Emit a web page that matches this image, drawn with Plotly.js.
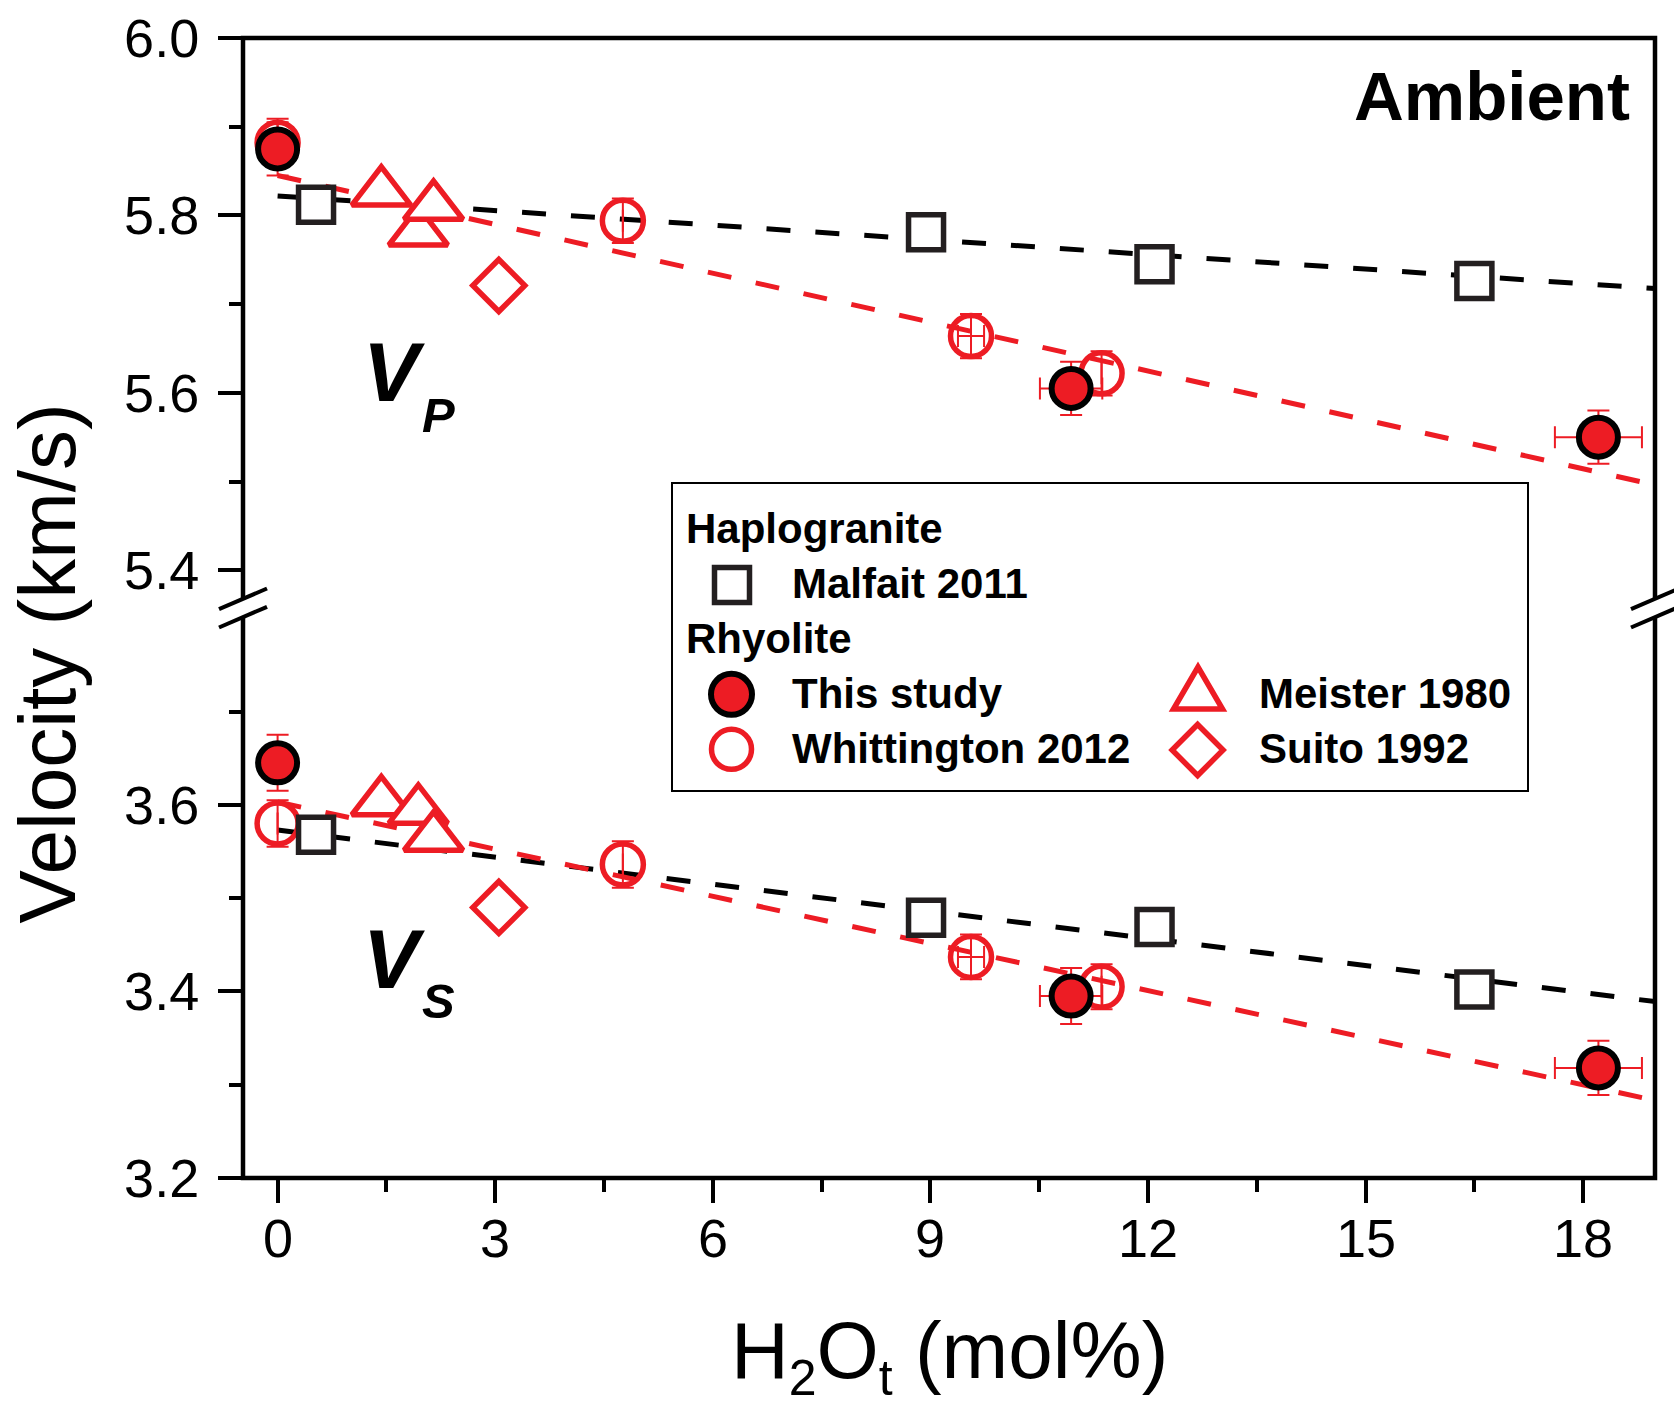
<!DOCTYPE html>
<html>
<head>
<meta charset="utf-8">
<script src="https://cdn.plot.ly/plotly-3.0.1.min.js"></script>
<style>
html,body{margin:0;padding:0;background:#fff;}
#chart{width:1674px;height:1407px;}
</style>
</head>
<body>
<div id="chart"></div>
<script>
// ---------------- data ----------------
const xTickVals = [0, 3, 6, 9, 12, 15, 18];
const vpTickVals = [5.4, 5.6, 5.8, 6.0];
const vpMinorVals = [5.5, 5.7, 5.9];
const vsTickVals = [3.2, 3.4, 3.6];
const vsMinorVals = [3.3, 3.5, 3.7];

const malfaitX  = [0.53, 8.94, 12.09, 16.5];
const malfaitVp = [5.812, 5.781, 5.745, 5.726];
const malfaitVs = [3.568, 3.479, 3.469, 3.402];

const thisX     = [0, 10.94, 18.21];
const thisXErr  = [0, 0.43, 0.6];
const thisVp    = [5.875, 5.605, 5.550];
const thisVpErr = [0.03, 0.03, 0.03];
const thisVs    = [3.645, 3.395, 3.318];
const thisVsErr = [0.03, 0.03, 0.029];

const whitX     = [0, 4.76, 9.56, 11.36];
const whitXErr  = [0, 0, 0.18, 0];
const whitVp    = [5.882, 5.794, 5.664, 5.622];
const whitVpErr = [0.027, 0.025, 0.025, 0.025];
const whitVs    = [3.580, 3.536, 3.437, 3.405];
const whitVsErr = [0.025, 0.025, 0.024, 0.024];

const meisterX  = [1.43, 1.94, 2.15];
const meisterVp = [5.826, 5.781, 5.810];
const meisterVs = [3.603, 3.594, 3.565];

const suitoX  = [3.05];
const suitoVp = [5.721];
const suitoVs = [3.490];

const fitX       = [0, 19];
const fitHaploVp = [5.822, 5.7175];
const fitRhyoVp  = [5.845, 5.496];
const fitHaploVs = [3.573, 3.389];
const fitRhyoVs  = [3.603, 3.283];

const groupNames  = ['Haplogranite', 'Rhyolite'];
const seriesNames = ['Malfait 2011', 'This study', 'Whittington 2012', 'Meister 1980', 'Suito 1992'];

// ---------------- styling / layout ----------------
const RED = '#ED1C24';
const DARK = '#231F20';
const FONT = 'Liberation Sans, Arial, Helvetica, sans-serif';

// plot-area geometry (pixels)
const W = 1674, H = 1407;
const M = {l: 243, r: 19, t: 38, b: 229};
const PW = W - M.l - M.r, PH = H - M.t - M.b;
const px = v => (v - M.l) / PW;
const py = v => (M.t + PH - v) / PH;

function dashed(color) { return {color: color, width: 5, dash: '24px,25px'}; }

function panel(yaxis, vals) {
  return [
    {x: fitX, y: vals.fitH, yaxis: yaxis, mode: 'lines', line: dashed('#000'), hoverinfo: 'skip'},
    {x: fitX, y: vals.fitR, yaxis: yaxis, mode: 'lines', line: dashed(RED), hoverinfo: 'skip'},
    {x: whitX, y: vals.whit, yaxis: yaxis, mode: 'markers', name: seriesNames[2],
     marker: {symbol: 'circle', size: 41, color: 'rgba(255,255,255,0)', line: {color: RED, width: 5.5}},
     error_y: {type: 'data', array: vals.whitErr, color: RED, thickness: 2, width: 11},
     error_x: {type: 'data', array: whitXErr, color: RED, thickness: 2, width: 11}},
    {x: malfaitX, y: vals.mal, yaxis: yaxis, mode: 'markers', name: seriesNames[0],
     marker: {symbol: 'square', size: 35, color: '#fff', line: {color: DARK, width: 5.5}}},
    {x: meisterX, y: vals.mei, yaxis: yaxis, mode: 'markers', name: seriesNames[3],
     marker: {symbol: 'triangle-up', size: 51, color: '#fff', line: {color: RED, width: 5.5}}},
    {x: suitoX, y: vals.sui, yaxis: yaxis, mode: 'markers', name: seriesNames[4],
     marker: {symbol: 'diamond', size: 40, color: '#fff', line: {color: RED, width: 5.5}}},
    {x: thisX, y: vals.thi, yaxis: yaxis, mode: 'markers', name: seriesNames[1],
     marker: {symbol: 'circle', size: 39, color: RED, line: {color: '#000', width: 6}},
     error_y: {type: 'data', array: vals.thiErr, color: RED, thickness: 2, width: 11},
     error_x: {type: 'data', array: thisXErr, color: RED, thickness: 2, width: 11}}
  ];
}

const data = [].concat(
  panel('y2', {fitH: fitHaploVp, fitR: fitRhyoVp, whit: whitVp, whitErr: whitVpErr, mal: malfaitVp,
               mei: meisterVp, sui: suitoVp, thi: thisVp, thiErr: thisVpErr}),
  panel('y', {fitH: fitHaploVs, fitR: fitRhyoVs, whit: whitVs, whitErr: whitVsErr, mal: malfaitVs,
              mei: meisterVs, sui: suitoVs, thi: thisVs, thiErr: thisVsErr})
);

const tickCommon = {
  ticks: 'outside', ticklen: 24, tickwidth: 4, tickcolor: '#000',
  showline: false, showgrid: false, zeroline: false,
  tickfont: {family: FONT, size: 54, color: '#000'}
};
const minorCommon = {ticks: 'outside', ticklen: 13, tickwidth: 4, tickcolor: '#000', showgrid: false};

// shapes: frame, axis breaks, legend box and legend symbols
const shapes = [
  {type: 'rect', xref: 'paper', yref: 'paper', x0: 0, x1: 1, y0: 0, y1: 1,
   line: {color: '#000', width: 4.5}, fillcolor: 'rgba(0,0,0,0)', layer: 'above'}
];
const breakY = py(608);
[0, 1].forEach(function (side) {
  const base = {xref: 'paper', yref: 'paper', xsizemode: 'pixel', ysizemode: 'pixel',
                xanchor: side, yanchor: breakY, layer: 'above'};
  shapes.push(Object.assign({type: 'path', path: 'M-24,-1.2L24,19.5L24,1.2L-24,-19.5Z',
                             fillcolor: '#fff', line: {width: 0}}, base));
  shapes.push(Object.assign({type: 'line', x0: -24, x1: 24, y0: -1.2, y1: 19.5,
                             line: {color: '#000', width: 4}}, base));
  shapes.push(Object.assign({type: 'line', x0: -24, x1: 24, y0: -19.5, y1: 1.2,
                             line: {color: '#000', width: 4}}, base));
});
// legend box
shapes.push({type: 'rect', xref: 'paper', yref: 'paper', x0: px(672), x1: px(1528), y0: py(791), y1: py(483),
             line: {color: '#000', width: 2}, fillcolor: '#fff', layer: 'above'});
function sym(cx, cy, spec) {
  return Object.assign({xref: 'paper', yref: 'paper', xsizemode: 'pixel', ysizemode: 'pixel',
                        xanchor: px(cx), yanchor: py(cy), layer: 'above'}, spec);
}
shapes.push(sym(732, 585, {type: 'rect', x0: -17.5, x1: 17.5, y0: -17.5, y1: 17.5,
                           fillcolor: '#fff', line: {color: DARK, width: 5.5}}));
shapes.push(sym(731.5, 694.3, {type: 'circle', x0: -20.5, x1: 20.5, y0: -20.5, y1: 20.5,
                               fillcolor: RED, line: {color: '#000', width: 6}}));
shapes.push(sym(731.5, 749.3, {type: 'circle', x0: -20, x1: 20, y0: -20, y1: 20,
                               fillcolor: '#fff', line: {color: RED, width: 5.5}}));
shapes.push(sym(1198, 695, {type: 'path', path: 'M-24.5,-14L24.5,-14L0,28Z',
                            fillcolor: '#fff', line: {color: RED, width: 5.5}}));
shapes.push(sym(1197.6, 750, {type: 'path', path: 'M0,25.5L25.5,0L0,-25.5L-25.5,0Z',
                              fillcolor: '#fff', line: {color: RED, width: 5.5}}));

// text annotations
function note(text, x, y, size, extra) {
  return Object.assign({text: text, xref: 'paper', yref: 'paper', x: px(x), y: py(y),
                        showarrow: false, xanchor: 'left', yanchor: 'middle',
                        font: {family: FONT, size: size, color: '#000'}}, extra || {});
}
const LF = 42;
const annotations = [
  note('<b>' + groupNames[0] + '</b>', 684, 543.3 - 0.35 * LF, LF),
  note('<b>' + seriesNames[0] + '</b>', 789.5, 598.3 - 0.35 * LF, LF),
  note('<b>' + groupNames[1] + '</b>', 684, 653.3 - 0.35 * LF, LF),
  note('<b>' + seriesNames[1] + '</b>', 789.5, 708.3 - 0.35 * LF, LF),
  note('<b>' + seriesNames[2] + '</b>', 789.5, 763.3 - 0.35 * LF, LF),
  note('<b>' + seriesNames[3] + '</b>', 1256.5, 708.3 - 0.35 * LF, LF),
  note('<b>' + seriesNames[4] + '</b>', 1256.5, 763.3 - 0.35 * LF, LF),
  note('<b>Ambient</b>', 1632, 120.7 - 0.35 * 69, 69, {xanchor: 'right'}),
  note('<b><i>V</i></b>', 361, 401.7 - 0.35 * 84, 84),
  note('<b><i>P</i></b>', 420, 431.7 - 0.35 * 49, 49),
  note('<b><i>V</i></b>', 361, 988.3 - 0.35 * 84, 84),
  note('<b><i>S</i></b>', 420, 1018.3 - 0.35 * 49, 49),
  note('Velocity (km/s)', 47.4, 663, 80, {xanchor: 'center', textangle: -90}),
  note('H<sub><span style="font-size:50px">2</span></sub>O<sub><span style="font-size:50px">t</span></sub> (mol%)',
       949, 1356, 80, {xanchor: 'center'})
];
// x tick labels placed on the x scale
xTickVals.forEach(function (v) {
  annotations.push({text: String(v), xref: 'x', yref: 'paper', x: v, y: py(1237.5),
                    showarrow: false, xanchor: 'center', yanchor: 'middle',
                    font: {family: FONT, size: 54, color: '#000'}});
});

const layout = {
  width: W, height: H,
  margin: {l: M.l, r: M.r, t: M.t, b: M.b, pad: 0},
  paper_bgcolor: '#fff', plot_bgcolor: 'rgba(0,0,0,0)',
  showlegend: false,
  font: {family: FONT, color: '#000'},
  xaxis: Object.assign({}, tickCommon, {
    range: [-0.477, 18.99], tickmode: 'array', tickvals: xTickVals,
    showticklabels: false, anchor: 'y',
    minor: Object.assign({}, minorCommon, {tick0: 0, dtick: 1.5})
  }),
  yaxis: Object.assign({}, tickCommon, {
    domain: [0, 0.491], range: [3.2, 3.8], anchor: 'x', tickmode: 'array',
    tickvals: vsTickVals, ticktext: vsTickVals.map(v => v.toFixed(1)), ticklabelstandoff: 8,
    minor: Object.assign({}, minorCommon, {tickmode: 'array', tickvals: vsMinorVals})
  }),
  yaxis2: Object.assign({}, tickCommon, {
    domain: [0.502, 1], range: [5.36, 6.0], anchor: 'x', tickmode: 'array',
    tickvals: vpTickVals, ticktext: vpTickVals.map(v => v.toFixed(1)), ticklabelstandoff: 8,
    minor: Object.assign({}, minorCommon, {tickmode: 'array', tickvals: vpMinorVals})
  }),
  shapes: shapes,
  annotations: annotations
};

Plotly.newPlot('chart', data, layout, {staticPlot: true, displayModeBar: false});
</script>
</body>
</html>
